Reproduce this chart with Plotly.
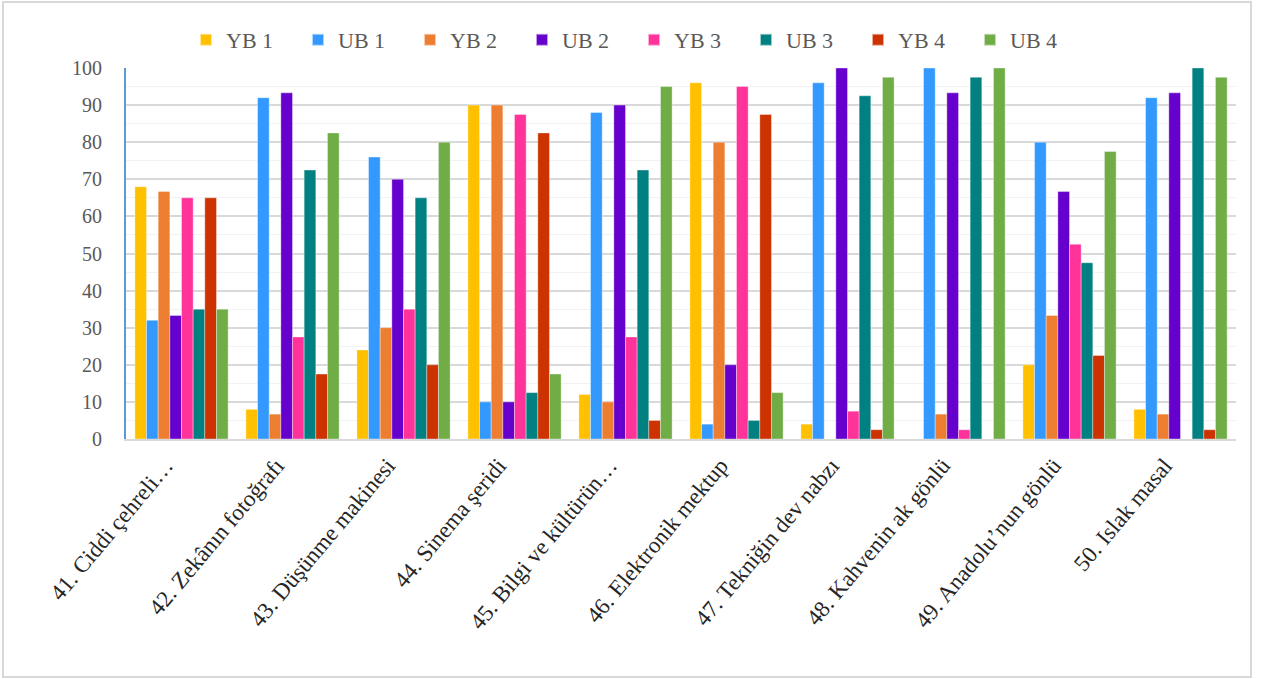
import plotly.graph_objects as go

categories = ["41. Ciddi çehreli…", "42. Zekânın fotoğrafı", "43. Düşünme makinesi",
              "44. Sinema şeridi", "45. Bilgi ve kültürün…", "46. Elektronik mektup",
              "47. Tekniğin dev nabzı", "48. Kahvenin ak gönlü", "49. Anadolu’nun gönlü",
              "50. Islak masal"]

yb1 = [68, 8, 24, 90, 12, 96, 4, 0, 20, 8]
ub1 = [32, 92, 76, 10, 88, 4, 96, 100, 80, 92]
yb2 = [66.7, 6.7, 30, 90, 10, 80, 0, 6.7, 33.3, 6.7]
ub2 = [33.3, 93.3, 70, 10, 90, 20, 100, 93.3, 66.7, 93.3]
yb3 = [65, 27.5, 35, 87.5, 27.5, 95, 7.5, 2.5, 52.5, 0]
ub3 = [35, 72.5, 65, 12.5, 72.5, 5, 92.5, 97.5, 47.5, 100]
yb4 = [65, 17.5, 20, 82.5, 5, 87.5, 2.5, 0, 22.5, 2.5]
ub4 = [35, 82.5, 80, 17.5, 95, 12.5, 97.5, 100, 77.5, 97.5]

series_names = ["YB 1", "UB 1", "YB 2", "UB 2", "YB 3", "UB 3", "YB 4", "UB 4"]
series_values = [yb1, ub1, yb2, ub2, yb3, ub3, yb4, ub4]
colors = ["#FFC000", "#3399FF", "#ED7D31", "#6600CC", "#FF3399", "#008080", "#CC3300", "#70AD47"]

fig = go.Figure()
for name, vals, c in zip(series_names, series_values, colors):
    fig.add_trace(go.Bar(name=name, x=categories, y=vals, marker_color=c,
                         marker_line=dict(color="rgba(255,255,255,0.6)", width=0.6)))

L, R, T, B = 126, 1236, 68, 439
W, H = 1268, 679
pw, ph = R - L, B - T

def px_x(p):
    return (p - L) / pw

def px_y(p):
    return (B - p) / ph

fig.update_layout(
    width=W, height=H,
    margin=dict(l=L, r=W - R, t=T, b=H - B, pad=0),
    paper_bgcolor="white", plot_bgcolor="white",
    barmode="group", bargap=0.16, bargroupgap=0,
    font=dict(family="Liberation Serif, Times New Roman, serif", color="#595959"),
    legend=dict(orientation="h", xref="container", yref="container",
                x=0.5, xanchor="center", y=1 - 40 / H, yanchor="middle",
                font=dict(size=22, color="#595959"),
                entrywidth=67, entrywidthmode="pixels",
                bgcolor="rgba(0,0,0,0)",
                itemsizing="constant", traceorder="normal"),
    xaxis=dict(tickangle=-50, tickfont=dict(size=23, color="#262626"),
               showline=True, linecolor="#D9D9D9", linewidth=2,
               showgrid=False, ticks="", automargin=False,
               ticklabelshift=-16, ticklabelstandoff=2),
    yaxis=dict(range=[0, 100], dtick=10, tickfont=dict(size=20, color="#595959"),
               showgrid=True, gridcolor="#D9D9D9", gridwidth=1.5,
               minor=dict(dtick=5, showgrid=True, gridcolor="#F2F2F2", gridwidth=1),
               showline=True, linecolor="#5B9BD5", linewidth=2,
               ticks="", ticklabelstandoff=18, zeroline=False, automargin=False),
    shapes=[dict(type="rect", xref="paper", yref="paper",
                 x0=px_x(3), x1=px_x(1251), y0=px_y(677), y1=px_y(2),
                 line=dict(color="#D9D9D9", width=2), fillcolor="rgba(0,0,0,0)",
                 layer="below")],
)

fig.write_html("out.html")
